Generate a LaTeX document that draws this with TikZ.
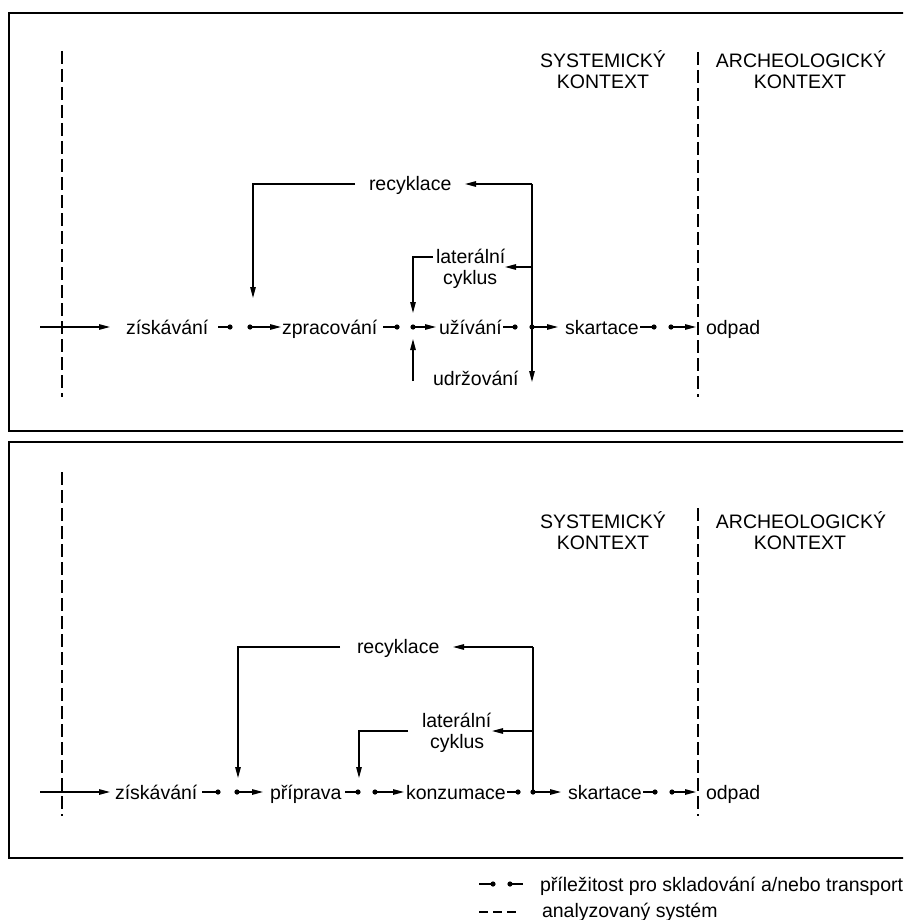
\documentclass[tikz,border=0pt]{standalone}
\usepackage{fontspec}
\setmainfont{Liberation Sans}
\usetikzlibrary{arrows.meta}
\newcommand\rdot[1]{\fill (#1) circle (2.6pt);}
\begin{document}
\begin{tikzpicture}[x=1pt,y=-1pt,
  lbl/.style={inner sep=0pt,outer sep=0pt,font=\fontsize{19.5}{21}\selectfont,anchor=base west},
  lblc/.style={lbl,anchor=base},
  con/.style={line width=1.3pt},
  arr/.style={con,-{Triangle[length=11pt,width=5.5pt]}},
  sysline/.style={line width=1.6pt,dash pattern=on 13pt off 5pt},
  frame/.style={line width=2.5pt}]
\useasboundingbox (0,0) rectangle (903,920);
\clip (0,0) rectangle (903,920);
% ---------------- frames
\draw[frame] (915,13) -- (9,13) -- (9,431) -- (915,431);
\draw[frame] (915,442) -- (9,442) -- (9,858) -- (915,858);
% ================= TOP PANEL
\coordinate (T-d1a) at (62,51);  \coordinate (T-d1b) at (62,397);
\coordinate (T-d2a) at (698,52); \coordinate (T-d2b) at (698,397);
\draw[sysline] (T-d1a) -- (T-d1b);
\draw[sysline] (T-d2a) -- (T-d2b);
\node[lblc] (T-h1) at (603,68) {SYSTEMICKÝ};
\node[lblc] (T-h2) at (603,89) {KONTEXT};
\node[lblc] (T-h3) at (801,68) {ARCHEOLOGICKÝ};
\node[lblc] (T-h4) at (800,89) {KONTEXT};
% row
\coordinate (T-e0) at (40,327); \coordinate (T-e1) at (110,327);
\draw[arr] (T-e0) -- (T-e1);
\node[lbl] (T-n1) at (126,334) {získávání};
\coordinate (T-o1a) at (218,327); \coordinate (T-o1b) at (230,327);
\draw[con] (T-o1a) -- (T-o1b); \rdot{T-o1b}
\coordinate (T-i1a) at (250,327); \coordinate (T-i1b) at (281,327);
\draw[arr] (T-i1a) -- (T-i1b); \rdot{T-i1a}
\node[lbl] (T-n2) at (282,334) {zpracování};
\coordinate (T-o2a) at (383,327); \coordinate (T-o2b) at (397,327);
\draw[con] (T-o2a) -- (T-o2b); \rdot{T-o2b}
\coordinate (T-i2a) at (413,327); \coordinate (T-i2b) at (436,327);
\draw[arr] (T-i2a) -- (T-i2b); \rdot{T-i2a}
\node[lbl] (T-n3) at (439,334) {užívání};
\coordinate (T-o3a) at (503,327); \coordinate (T-o3b) at (515,327);
\draw[con] (T-o3a) -- (T-o3b); \rdot{T-o3b}
\coordinate (T-i3a) at (532,327); \coordinate (T-i3b) at (558,327);
\draw[arr] (T-i3a) -- (T-i3b); \rdot{T-i3a}
\node[lbl] (T-n4) at (565,334) {skartace};
\coordinate (T-o4a) at (640,327); \coordinate (T-o4b) at (654,327);
\draw[con] (T-o4a) -- (T-o4b); \rdot{T-o4b}
\coordinate (T-i4a) at (671,327); \coordinate (T-i4b) at (696,327);
\draw[arr] (T-i4a) -- (T-i4b); \rdot{T-i4a}
\node[lbl] (T-n5) at (706,334) {odpad};
% recycling
\coordinate (T-rc) at (532,184); \coordinate (T-rcTip) at (465,184);
\node[lbl] (T-recy) at (369,190) {recyklace};
\draw[arr] (T-rc) -- (T-rcTip);
\coordinate (T-rl) at (355,184); \coordinate (T-rlc) at (253,184); \coordinate (T-rlTip) at (253,298);
\draw[arr] (T-rl) -- (T-rlc) -- (T-rlTip);
\coordinate (T-vb) at (532,382);
\draw[arr] (T-rc) -- (T-vb);
% lateral cycle
\node[lbl] (T-lat1) at (436,263) {laterální};
\node[lbl] (T-lat2) at (443,284) {cyklus};
\coordinate (T-la) at (532,267); \coordinate (T-laTip) at (505,267);
\draw[arr] (T-la) -- (T-laTip);
\coordinate (T-lo) at (433,257); \coordinate (T-loc) at (413,257); \coordinate (T-loTip) at (413,313);
\draw[arr] (T-lo) -- (T-loc) -- (T-loTip);
% maintenance
\node[lbl] (T-ud) at (433,385) {udržování};
\coordinate (T-ua) at (413,381); \coordinate (T-uaTip) at (413,339);
\draw[arr] (T-ua) -- (T-uaTip);
% ================= BOTTOM PANEL
\coordinate (B-d1a) at (62,472);  \coordinate (B-d1b) at (62,816);
\coordinate (B-d2a) at (698,508); \coordinate (B-d2b) at (698,816);
\draw[sysline] (B-d1a) -- (B-d1b);
\draw[sysline] (B-d2a) -- (B-d2b);
\node[lblc] (B-h1) at (603,528) {SYSTEMICKÝ};
\node[lblc] (B-h2) at (603,549) {KONTEXT};
\node[lblc] (B-h3) at (801,528) {ARCHEOLOGICKÝ};
\node[lblc] (B-h4) at (800,549) {KONTEXT};
% row
\coordinate (B-e0) at (40,792); \coordinate (B-e1) at (110,792);
\draw[arr] (B-e0) -- (B-e1);
\node[lbl] (B-n1) at (115,799) {získávání};
\coordinate (B-o1a) at (202,792); \coordinate (B-o1b) at (218,792);
\draw[con] (B-o1a) -- (B-o1b); \rdot{B-o1b}
\coordinate (B-i1a) at (237,792); \coordinate (B-i1b) at (263,792);
\draw[arr] (B-i1a) -- (B-i1b); \rdot{B-i1a}
\node[lbl] (B-n2) at (270,799) {příprava};
\coordinate (B-o2a) at (345,792); \coordinate (B-o2b) at (358,792);
\draw[con] (B-o2a) -- (B-o2b); \rdot{B-o2b}
\coordinate (B-i2a) at (375,792); \coordinate (B-i2b) at (404,792);
\draw[arr] (B-i2a) -- (B-i2b); \rdot{B-i2a}
\node[lbl] (B-n3) at (406,799) {konzumace};
\coordinate (B-o3a) at (507,792); \coordinate (B-o3b) at (518,792);
\draw[con] (B-o3a) -- (B-o3b); \rdot{B-o3b}
\coordinate (B-i3a) at (533,792); \coordinate (B-i3b) at (561,792);
\draw[arr] (B-i3a) -- (B-i3b); \rdot{B-i3a}
\node[lbl] (B-n4) at (568,799) {skartace};
\coordinate (B-o4a) at (643,792); \coordinate (B-o4b) at (655,792);
\draw[con] (B-o4a) -- (B-o4b); \rdot{B-o4b}
\coordinate (B-i4a) at (672,792); \coordinate (B-i4b) at (696,792);
\draw[arr] (B-i4a) -- (B-i4b); \rdot{B-i4a}
\node[lbl] (B-n5) at (706,799) {odpad};
% recycling
\coordinate (B-rc) at (533,647); \coordinate (B-rcTip) at (453,647);
\node[lbl] (B-recy) at (357,653) {recyklace};
\draw[arr] (B-rc) -- (B-rcTip);
\coordinate (B-rl) at (340,647); \coordinate (B-rlc) at (238,647); \coordinate (B-rlTip) at (238,778);
\draw[arr] (B-rl) -- (B-rlc) -- (B-rlTip);
\draw[con] (B-rc) -- (B-i3a);
% lateral cycle
\node[lbl] (B-lat1) at (422,727) {laterální};
\node[lbl] (B-lat2) at (430,748) {cyklus};
\coordinate (B-la) at (533,731); \coordinate (B-laTip) at (492,731);
\draw[arr] (B-la) -- (B-laTip);
\coordinate (B-lo) at (408,731); \coordinate (B-loc) at (359,731); \coordinate (B-loTip) at (359,778);
\draw[arr] (B-lo) -- (B-loc) -- (B-loTip);
% ================= LEGEND
\coordinate (L-a1) at (479,884); \coordinate (L-a2) at (493,884);
\draw[con] (L-a1) -- (L-a2); \rdot{L-a2}
\coordinate (L-b1) at (510,884); \coordinate (L-b2) at (523,884);
\draw[con] (L-b1) -- (L-b2); \rdot{L-b1}
\node[lbl] (L-t1) at (540,891) {příležitost pro skladování a/nebo transport};
\coordinate (L-c1) at (479,912); \coordinate (L-c2) at (519,912);
\draw[line width=1.4pt,dash pattern=on 9pt off 5pt] (L-c1) -- (L-c2);
\node[lbl] (L-t2) at (542,917) {analyzovaný systém};
\end{tikzpicture}
\end{document}
